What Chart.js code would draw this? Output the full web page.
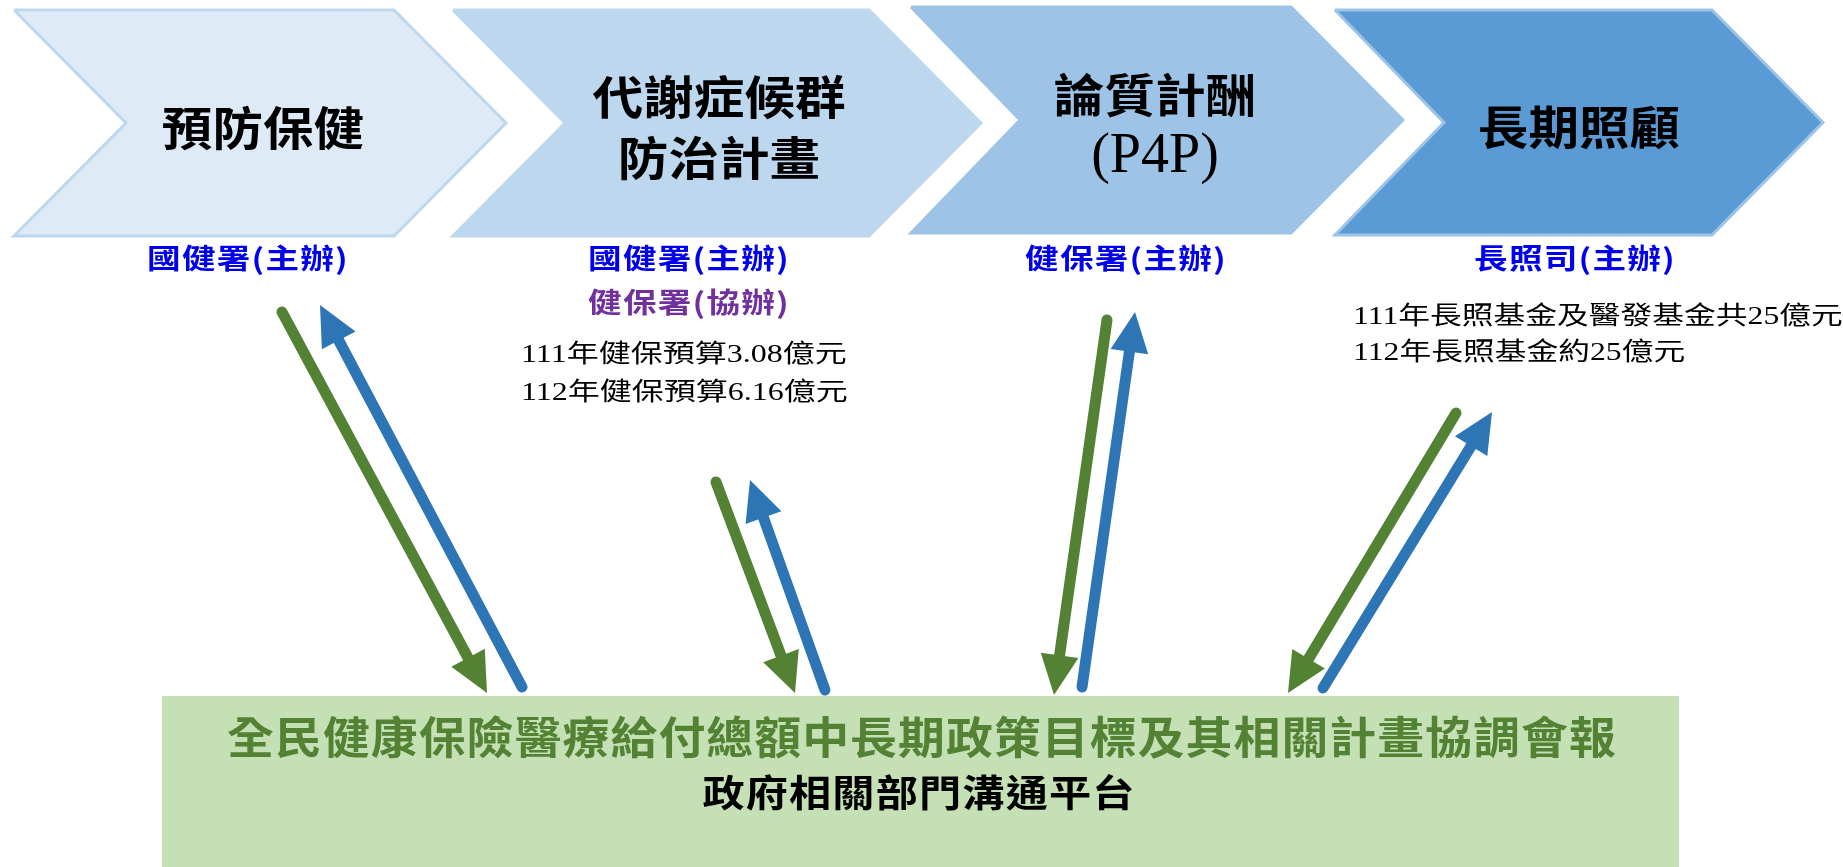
<!DOCTYPE html>
<html>
<head>
<meta charset="utf-8">
<script src="https://cdn.jsdelivr.net/npm/chart.js@4"></script>
<style>
  html, body { margin: 0; padding: 0; background: #fff; }
  canvas { display: block; }
</style>
</head>
<body>
<canvas id="diagram" width="1843" height="867"></canvas>
<script>
// texts
const stageTitles = [["預防保健"], ["代謝症候群", "防治計畫"], ["論質計酬", "(P4P)"], ["長期照顧"]];
const leadAgencies = ["國健署(主辦)", "國健署(主辦)", "健保署(主辦)", "長照司(主辦)"];
const coAgency = "健保署(協辦)";
const metabolicBudget = ["111年健保預算3.08億元", "112年健保預算6.16億元"];
const ltcBudget = ["111年長照基金及醫發基金共25億元", "112年長照基金約25億元"];
const platformName = "全民健康保險醫療給付總額中長期政策目標及其相關計畫協調會報";
const platformSub = "政府相關部門溝通平台";

// chevron x: left edge, notch, top-right corner, tip; y: top, bottom
const chevronX = [[14, 126, 394, 506], [453, 565, 869, 981], [911, 1020, 1291, 1403], [1335, 1444, 1712, 1823]];
const chevronY = [[10, 236], [10, 236], [7, 233], [10, 235]];
const chevronFill = ["#DEEBF7", "#BDD7EE", "#9DC3E6", "#5B9BD5"];
const chevronEdge = ["#BDD7EE", "#BDD7EE", "#9DC3E6", "#9DC3E6"];

// platform box: x0, x1, y0, y1
const platformBox = [162, 1679, 696, 867];

// arrows: start x, start y, tip x, tip y
const downArrows = [[282, 312, 487, 693], [716, 482, 795, 693], [1107, 320, 1054, 695], [1456, 413, 1288, 693]];
const upArrows = [[522, 687, 320, 305], [825, 690, 750, 480], [1082, 687, 1135, 312], [1323, 688, 1492, 412]];

const GREEN = "#548235";
const BLUE = "#2E75B6";
const HEAD_LEN = 40;
const HEAD_W = 38;

const datasets = [];

// arrow shafts stop inside the head
function shaft(a, color) {
  const dx = a[2] - a[0], dy = a[3] - a[1];
  const len = Math.hypot(dx, dy);
  const k = (len - HEAD_LEN + 6) / len;
  return {
    data: [{ x: a[0], y: a[1] }, { x: a[0] + dx * k, y: a[1] + dy * k }],
    showLine: true,
    borderColor: color,
    borderWidth: 11,
    borderCapStyle: "round",
    pointRadius: 0,
    fill: false,
    order: 0,
    arrow: a,
  };
}
downArrows.forEach(a => datasets.push(shaft(a, GREEN)));
upArrows.forEach(a => datasets.push(shaft(a, BLUE)));

chevronX.forEach((cx, i) => {
  const [top, bot] = chevronY[i];
  const mid = (top + bot) / 2;
  datasets.push({
    data: [
      { x: cx[0], y: top }, { x: cx[2], y: top }, { x: cx[3], y: mid },
      { x: cx[2], y: bot }, { x: cx[0], y: bot }, { x: cx[1], y: mid },
      { x: cx[0], y: top },
    ],
    showLine: true,
    fill: "shape",
    backgroundColor: chevronFill[i],
    borderColor: chevronEdge[i],
    borderWidth: 3,
    borderJoinStyle: "miter",
    pointRadius: 0,
    order: 2,
  });
});

datasets.push({
  data: [
    { x: platformBox[0], y: platformBox[2] }, { x: platformBox[1], y: platformBox[2] },
    { x: platformBox[1], y: platformBox[3] }, { x: platformBox[0], y: platformBox[3] },
    { x: platformBox[0], y: platformBox[2] },
  ],
  showLine: true,
  fill: "shape",
  backgroundColor: "#C5E0B4",
  borderColor: "#C5E0B4",
  borderWidth: 0,
  pointRadius: 0,
  order: 2,
});

const arrowHeads = {
  id: "arrowHeads",
  afterDatasetsDraw(chart) {
    const { ctx } = chart;
    const sx = chart.scales.x, sy = chart.scales.y;
    chart.data.datasets.forEach(ds => {
      if (!ds.arrow) return;
      const a = ds.arrow;
      const x0 = sx.getPixelForValue(a[0]), y0 = sy.getPixelForValue(a[1]);
      const x1 = sx.getPixelForValue(a[2]), y1 = sy.getPixelForValue(a[3]);
      const len = Math.hypot(x1 - x0, y1 - y0);
      const ux = (x1 - x0) / len, uy = (y1 - y0) / len;
      const bx = x1 - ux * HEAD_LEN, by = y1 - uy * HEAD_LEN;
      ctx.save();
      ctx.fillStyle = ds.borderColor;
      ctx.beginPath();
      ctx.moveTo(x1, y1);
      ctx.lineTo(bx - uy * HEAD_W / 2, by + ux * HEAD_W / 2);
      ctx.lineTo(bx + uy * HEAD_W / 2, by - ux * HEAD_W / 2);
      ctx.closePath();
      ctx.fill();
      ctx.restore();
    });
  },
};

const CJK = '"Noto Sans CJK TC"';
function put(chart, str, x, y, font, color, opt = {}) {
  const { ctx } = chart;
  const px = chart.scales.x.getPixelForValue(x);
  const py = chart.scales.y.getPixelForValue(y);
  ctx.save();
  ctx.font = font;
  ctx.fillStyle = color;
  ctx.textBaseline = "middle";
  ctx.textAlign = opt.align || "center";
  ctx.letterSpacing = (opt.spacing || 0) + "px";
  ctx.translate(px, py);
  ctx.scale(opt.sx || 1, 1);
  ctx.fillText(str, 0, 0);
  ctx.restore();
}

const labels = {
  id: "labels",
  afterDatasetsDraw(chart) {
    const title = `bold 46px ${CJK}`;
    put(chart, stageTitles[0][0], 263, 128, title, "#000", { sx: 1.1 });
    put(chart, stageTitles[1][0], 719, 97, title, "#000", { sx: 1.1 });
    put(chart, stageTitles[1][1], 719, 158, title, "#000", { sx: 1.1 });
    put(chart, stageTitles[2][0], 1155, 95, title, "#000", { sx: 1.1 });
    put(chart, stageTitles[2][1], 1155, 157, '56px "Liberation Serif"', "#000", { sx: 1.0 });
    put(chart, stageTitles[3][0], 1579, 127, title, "#000", { sx: 1.1 });

    const agency = `bold 28px ${CJK}`;
    const agencyX = [248, 689, 1126, 1575];
    leadAgencies.forEach((t, i) => put(chart, t, agencyX[i], 258, agency, "#0000EE", { sx: 1.2, spacing: 1 }));
    put(chart, coAgency, 689, 302, agency, "#7030A0", { sx: 1.2, spacing: 1 });

    const note = `25px "Liberation Serif", ${CJK}`;
    put(chart, metabolicBudget[0], 521, 355, note, "#000", { align: "left", sx: 1.28 });
    put(chart, metabolicBudget[1], 521, 393, note, "#000", { align: "left", sx: 1.28 });
    put(chart, ltcBudget[0], 1353, 317, note, "#000", { align: "left", sx: 1.27 });
    put(chart, ltcBudget[1], 1353, 353, note, "#000", { align: "left", sx: 1.27 });

    put(chart, platformName, 922, 737, `bold 44px ${CJK}`, GREEN, { sx: 1.065, spacing: 1 });
    put(chart, platformSub, 919, 793, `bold 37px ${CJK}`, "#000", { sx: 1.14, spacing: 1 });
  },
};

new Chart(document.getElementById("diagram").getContext("2d"), {
  type: "scatter",
  data: { datasets },
  options: {
    responsive: false,
    animation: false,
    layout: { padding: 0 },
    plugins: { legend: { display: false }, tooltip: { enabled: false } },
    elements: { point: { radius: 0, hoverRadius: 0 }, line: { tension: 0 } },
    scales: {
      x: { type: "linear", min: 0, max: 1843, display: false },
      y: { type: "linear", min: 0, max: 867, reverse: true, display: false },
    },
  },
  plugins: [arrowHeads, labels],
});
</script>
</body>
</html>
